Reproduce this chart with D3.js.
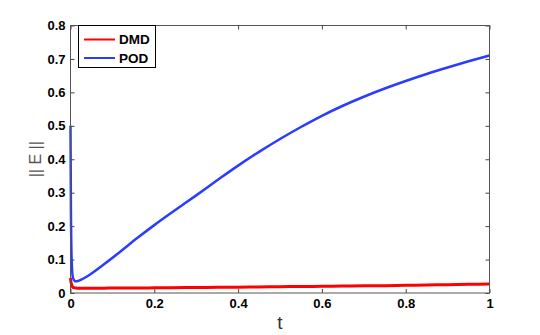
<!DOCTYPE html>
<html>
<head>
<meta charset="utf-8">
<script src="https://cdn.jsdelivr.net/npm/d3@7"></script>
<style>
  body { margin: 0; background: #fff; }
  text { font-family: "Liberation Sans", Arial, sans-serif; }
</style>
</head>
<body>
<svg id="chart" width="540" height="335"></svg>
<script>
// sample times and error norms
const tValues = [0, 0.001, 0.003, 0.006, 0.012, 0.02, 0.04, 0.08, 0.12, 0.16, 0.2, 0.24, 0.3, 0.35, 0.4, 0.45, 0.5, 0.55, 0.6, 0.65, 0.7, 0.75, 0.8, 0.85, 0.9, 0.95, 1];
const podValues = [0.5, 0.25, 0.09, 0.045, 0.035, 0.037, 0.05, 0.086, 0.125, 0.165, 0.203, 0.239, 0.292, 0.337, 0.381, 0.422, 0.4605, 0.4965, 0.53, 0.56, 0.587, 0.6115, 0.634, 0.655, 0.6745, 0.693, 0.7105];
const dmdValues = [0.045, 0.034, 0.024, 0.017, 0.015, 0.014, 0.014, 0.0145, 0.015, 0.015, 0.0155, 0.016, 0.0165, 0.017, 0.0175, 0.018, 0.019, 0.0195, 0.02, 0.021, 0.0215, 0.022, 0.023, 0.024, 0.025, 0.026, 0.027];
const xTicks = [0, 0.2, 0.4, 0.6, 0.8, 1];
const yTicks = [0, 0.1, 0.2, 0.3, 0.4, 0.5, 0.6, 0.7, 0.8];
const seriesNames = ["DMD", "POD"];
const seriesColors = ["#ff0000", "#2a3dff"];

const svg = d3.select("#chart");
const plotLeft = 70.5, plotRight = 489.5, plotTop = 25.5, plotBottom = 293;

const x = d3.scaleLinear().domain([0, 1]).range([plotLeft, plotRight]);
const y = d3.scaleLinear().domain([0, 0.8]).range([plotBottom, plotTop]);

const fmt = d => d === 0 ? "0" : d === 1 ? "1" : d3.format(".1f")(d);

// ticks pointing inward on all four sides
svg.append("g").attr("transform", `translate(0,${plotBottom})`)
    .call(d3.axisBottom(x).tickValues(xTicks).tickSize(-4).tickPadding(6).tickFormat(fmt))
    .call(g => g.select(".domain").remove());
svg.append("g").attr("transform", `translate(0,${plotTop})`)
    .call(d3.axisTop(x).tickValues(xTicks).tickSize(-4).tickFormat(""))
    .call(g => g.select(".domain").remove());
svg.append("g").attr("transform", `translate(${plotLeft},0)`)
    .call(d3.axisLeft(y).tickValues(yTicks).tickSize(-4).tickPadding(5).tickFormat(fmt))
    .call(g => g.select(".domain").remove());
svg.append("g").attr("transform", `translate(${plotRight},0)`)
    .call(d3.axisRight(y).tickValues(yTicks).tickSize(-4).tickFormat(""))
    .call(g => g.select(".domain").remove());

svg.selectAll(".tick line").attr("stroke", "#444");
svg.selectAll(".tick text")
    .attr("font-size", 13).attr("font-weight", "bold").attr("fill", "#000")
    .attr("font-family", "'Liberation Sans', Arial, sans-serif");

const line = d3.line().x((d, i) => x(tValues[i])).y(d => y(d)).curve(d3.curveMonotoneX);

svg.append("path").datum(podValues)
    .attr("d", line).attr("fill", "none")
    .attr("stroke", seriesColors[1]).attr("stroke-width", 2.5);
svg.append("path").datum(dmdValues)
    .attr("d", line).attr("fill", "none")
    .attr("stroke", seriesColors[0]).attr("stroke-width", 3);

// frame
svg.append("rect").attr("x", plotLeft).attr("y", plotTop)
    .attr("width", plotRight - plotLeft).attr("height", plotBottom - plotTop)
    .attr("fill", "none").attr("stroke", "#555").attr("stroke-width", 1);

// axis labels
svg.append("text").attr("x", x(0.5)).attr("y", 329)
    .attr("text-anchor", "middle").attr("font-size", 19).attr("fill", "#333")
    .text("t");
svg.append("text").attr("transform", `translate(41,${y(0.4)}) rotate(-90)`)
    .attr("text-anchor", "middle").attr("font-size", 16).attr("fill", "#555")
    .text("|| E ||");

// legend
const legend = svg.append("g");
legend.append("rect").attr("x", 78.5).attr("y", 25.5).attr("width", 77).attr("height", 42)
    .attr("fill", "#fff").attr("stroke", "#000").attr("stroke-width", 1);
seriesNames.forEach((name, i) => {
    const ly = 39.5 + i * 18.5;
    legend.append("line").attr("x1", 84).attr("x2", 115).attr("y1", ly).attr("y2", ly)
        .attr("stroke", seriesColors[i]).attr("stroke-width", 2);
    legend.append("text").attr("x", 119).attr("y", ly + 4.8)
        .attr("font-size", 13.5).attr("font-weight", "bold").attr("fill", "#000")
        .text(name);
});
</script>
</body>
</html>
